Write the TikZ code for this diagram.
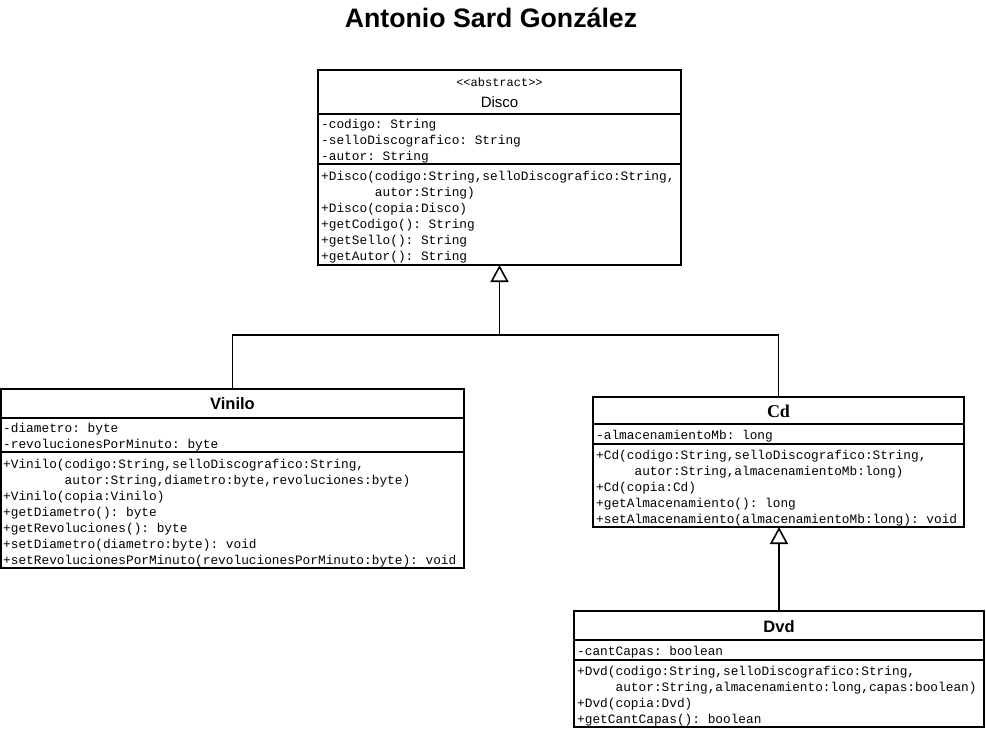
\documentclass[tikz,border=0pt]{standalone}
\usepackage{fontspec}
\setmainfont{Liberation Sans}
\newfontfamily\monof{Liberation Mono}
\newfontfamily\serf{Liberation Serif}
\usetikzlibrary{arrows.meta}
\frenchspacing
\begin{document}
\begin{tikzpicture}[x=1pt,y=-1pt,
  cls/.style={draw, line width=1.6pt, fill=white, inner sep=0pt, outer sep=0pt, anchor=north west},
  sepline/.style={line width=1.6pt},
  mem/.style={anchor=base west, inner sep=0pt, font=\monof\fontsize{12.8}{16}\selectfont},
  cname/.style={anchor=base, inner sep=0pt, font=\bfseries\fontsize{16.5}{18}\selectfont},
  conn/.style={line width=1.6pt},
  inherit/.style={line width=1.6pt, -{Triangle[open, length=17pt, width=18pt, line width=1.6pt]}}
]
\useasboundingbox (0,0) rectangle (986,729);

% title
\node[anchor=base, inner sep=0pt, font=\bfseries\fontsize{26.7}{30}\selectfont] (title) at (491,27) {Antonio Sard González};

% ---------- Disco ----------
\node[cls, minimum width=363pt, minimum height=195pt] (disco) at (318,70) {};
\node[anchor=base, inner sep=0pt, font=\monof\fontsize{12}{14}\selectfont] (disco-st) at (499.5,86) {<{}<abstract>{}>};
\node[anchor=base, inner sep=0pt, font=\fontsize{15}{17}\selectfont] (disco-n) at (499.5,107) {Disco};
\draw[sepline] (318,114) -- (681,114);
\draw[sepline] (318,164) -- (681,164);
\foreach \t [count=\i from 0] in {-codigo: String,-selloDiscografico: String,-autor: String}
  \node[mem] (disco-a\i) at (321,{128+16*\i}) {\t};
\foreach \t [count=\i from 0] in {{+Disco(codigo:String,selloDiscografico:String,},{\phantom{+Disco(}autor:String)},{+Disco(copia:Disco)},{+getCodigo(): String},{+getSello(): String},{+getAutor(): String}}
  \node[mem] (disco-m\i) at (321,{180+16*\i}) {\t};

% ---------- Vinilo ----------
\node[cls, minimum width=463pt, minimum height=179pt] (vinilo) at (1,389) {};
\node[cname] (vinilo-n) at (232.5,409) {Vinilo};
\draw[sepline] (1,418) -- (464,418);
\draw[sepline] (1,452) -- (464,452);
\foreach \t [count=\i from 0] in {-diametro: byte,-revolucionesPorMinuto: byte}
  \node[mem] (vinilo-a\i) at (3,{432+16*\i}) {\t};
\foreach \t [count=\i from 0] in {{+Vinilo(codigo:String,selloDiscografico:String,},{\phantom{+Vinilo(}autor:String,diametro:byte,revoluciones:byte)},{+Vinilo(copia:Vinilo)},{+getDiametro(): byte},{+getRevoluciones(): byte},{+setDiametro(diametro:byte): void},{+setRevolucionesPorMinuto(revolucionesPorMinuto:byte): void}}
  \node[mem] (vinilo-m\i) at (3,{468+16*\i}) {\t};

% ---------- Cd ----------
\node[cls, minimum width=371pt, minimum height=130pt] (cd) at (593,397) {};
\node[anchor=base, inner sep=0pt, font=\serf\bfseries\fontsize{18}{20}\selectfont] (cd-n) at (778.5,417) {Cd};
\draw[sepline] (593,424) -- (964,424);
\draw[sepline] (593,444) -- (964,444);
\node[mem] (cd-a0) at (596,439) {-almacenamientoMb: long};
\foreach \t [count=\i from 0] in {{+Cd(codigo:String,selloDiscografico:String,},{\phantom{+Cd(x}autor:String,almacenamientoMb:long)},{+Cd(copia:Cd)},{+getAlmacenamiento(): long},{+setAlmacenamiento(almacenamientoMb:long): void}}
  \node[mem] (cd-m\i) at (596,{459+16*\i}) {\t};

% ---------- Dvd ----------
\node[cls, minimum width=410pt, minimum height=116pt] (dvd) at (574,611) {};
\node[cname] (dvd-n) at (779,632) {Dvd};
\draw[sepline] (574,640) -- (984,640);
\draw[sepline] (574,660) -- (984,660);
\node[mem] (dvd-a0) at (577,655) {-cantCapas: boolean};
\foreach \t [count=\i from 0] in {{+Dvd(codigo:String,selloDiscografico:String,},{\phantom{+Dvd(}autor:String,almacenamiento:long,capas:boolean)},{+Dvd(copia:Dvd)},{+getCantCapas(): boolean}}
  \node[mem] (dvd-m\i) at (577,{675+16*\i}) {\t};

% ---------- connectors ----------
\coordinate (join) at (499.5,335);
\draw[conn] (vinilo.north) |- (join);
\draw[conn] (cd.north) |- (join);
\draw[inherit] (join) -- (join |- disco.south);
\draw[inherit] (dvd.north) -- (dvd.north |- cd.south);
\end{tikzpicture}
\end{document}
